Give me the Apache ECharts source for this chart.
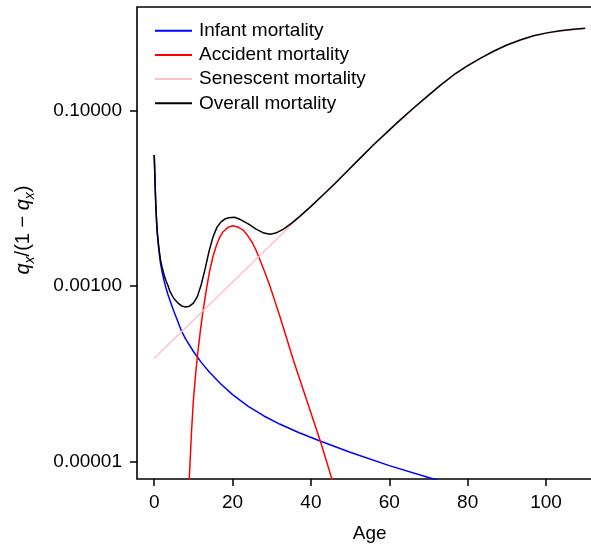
<!DOCTYPE html>
<html>
<head>
<meta charset="utf-8">
<script src="https://cdn.jsdelivr.net/npm/echarts@6/dist/echarts.min.js"></script>
<style>
html,body{margin:0;padding:0;background:#fff;}
#chart{width:591px;height:544px;}
</style>
</head>
<body>
<div id="chart"></div>
<script>
// Ages (years) and q/(1-q) values
var infantAge = [0, 0.1, 0.25, 0.4, 0.6, 0.8, 1, 1.3, 1.6, 2, 2.5, 3, 3.5, 4, 5, 6, 7, 8, 10, 12, 14, 17, 20, 24, 28, 32, 37, 42, 50, 60, 70, 76];
var infantVal = [3.13e-2, 2.24e-2, 1.318e-2, 8.32e-3, 5.37e-3, 3.89e-3, 3.09e-3, 2.317e-3, 1.82e-3, 1.462e-3, 1.161e-3, 9.55e-4, 8.04e-4, 6.92e-4, 5.19e-4, 3.98e-4, 3.05e-4, 2.51e-4, 1.803e-4, 1.355e-4, 1.057e-4, 7.67e-5, 5.82e-5, 4.28e-5, 3.32e-5, 2.685e-5, 2.138e-5, 1.742e-5, 1.282e-5, 9.02e-6, 6.61e-6, 5.50e-6];

var accidentAge = [8.6, 8.95, 9.5, 10, 10.6, 11.2, 11.85, 12.5, 13.35, 14.2, 15.05, 15.9, 16.75, 17.6, 18.8, 20, 21.3, 22.7, 23.8, 24.9, 26, 27, 28.3, 29.6, 30.8, 32.1, 33.8, 35.5, 37.2, 38.9, 40.6, 42.3, 43.8, 45.3, 46];
var accidentVal = [2.51e-6, 6.46e-6, 2.14e-5, 5.05e-5, 1.035e-4, 1.875e-4, 3.31e-4, 5.36e-4, 9.44e-4, 1.531e-3, 2.223e-3, 2.951e-3, 3.622e-3, 4.178e-3, 4.677e-3, 4.887e-3, 4.732e-3, 4.365e-3, 3.802e-3, 3.214e-3, 2.570e-3, 1.991e-3, 1.413e-3, 9.86e-4, 6.76e-4, 4.49e-4, 2.547e-4, 1.442e-4, 8.53e-5, 5.05e-5, 2.985e-5, 1.766e-5, 1.072e-5, 6.46e-6, 5.01e-6];

var senescentAge = [0, 37, 40, 43.2, 46, 49.1, 52.5, 55.9, 59.3, 62.8, 66.2, 69.6, 73, 76.4, 79.8, 83.2, 86.6, 90, 93.4, 96.8, 100.2, 103.6, 107, 110];
var senescentVal = [1.51e-4, 6.10e-3, 8.05e-3, 1.098e-2, 1.447e-2, 1.998e-2, 2.835e-2, 4.02e-2, 5.57e-2, 7.77e-2, 0.1061, 0.1430, 0.1922, 0.2527, 0.3189, 0.3914, 0.4716, 0.5554, 0.6333, 0.7089, 0.7632, 0.8084, 0.8387, 0.8603];

var overallAge = [0, 0.1, 0.25, 0.4, 0.6, 0.8, 1, 1.3, 1.6, 2, 2.5, 3, 3.5, 4, 5, 6, 7, 8, 9, 10, 11, 12, 13, 14, 15, 16, 17, 18, 19, 20.5, 22, 24, 26, 28, 29.6, 31, 33, 35, 37, 40, 43.2, 46, 49.1, 52.5, 55.9, 59.3, 62.8, 66.2, 69.6, 73, 76.4, 79.8, 83.2, 86.6, 90, 93.4, 96.8, 100.2, 103.6, 107, 110];
var overallVal = [3.13e-2, 2.25e-2, 1.324e-2, 8.47e-3, 5.52e-3, 4.05e-3, 3.26e-3, 2.49e-3, 2.0e-3, 1.644e-3, 1.352e-3, 1.156e-3, 1.016e-3, 8.71e-4, 7.24e-4, 6.46e-4, 5.96e-4, 5.79e-4, 5.92e-4, 6.41e-4, 7.59e-4, 1.047e-3, 1.585e-3, 2.51e-3, 3.63e-3, 4.68e-3, 5.37e-3, 5.82e-3, 6.03e-3, 6.10e-3, 5.75e-3, 5.13e-3, 4.47e-3, 4.03e-3, 3.90e-3, 4.03e-3, 4.47e-3, 5.19e-3, 6.17e-3, 8.13e-3, 1.109e-2, 1.462e-2, 2.018e-2, 2.864e-2, 4.064e-2, 5.623e-2, 7.852e-2, 0.1072, 0.1445, 0.1941, 0.2553, 0.3221, 0.3954, 0.4764, 0.5610, 0.6397, 0.7161, 0.7709, 0.8166, 0.8472, 0.8690];

var xTicks = [0, 20, 40, 60, 80, 100];
var yTicks = [0.00001, 0.001, 0.1];

var seriesNames = ['Infant mortality', 'Accident mortality', 'Senescent mortality', 'Overall mortality'];
var seriesColors = ['#0000ff', '#ff0000', '#ffc0cb', '#000000'];

function pairs(xs, ys) { return xs.map(function (x, i) { return [x, ys[i]]; }); }

var FONT = '"Liberation Sans", Arial, Helvetica, sans-serif';
var chart = echarts.init(document.getElementById('chart'));
var dataSets = [pairs(infantAge, infantVal), pairs(accidentAge, accidentVal), pairs(senescentAge, senescentVal), pairs(overallAge, overallVal)];

chart.setOption({
  animation: false,
  backgroundColor: '#fff',
  textStyle: { fontFamily: FONT },
  grid: { left: 137, top: 7, width: 465.4, height: 472, outerBoundsMode: 'none', containLabel: false,
          show: true, borderColor: '#000', borderWidth: 1.6, backgroundColor: 'transparent' },
  legend: {
    orient: 'vertical', left: 155, top: 18.6, padding: 0,
    icon: 'rect', itemWidth: 37, itemHeight: 2, itemGap: 0,
    textStyle: { fontSize: 19, lineHeight: 24.2, color: '#000', fontFamily: FONT, padding: [0, 0, 0, 2] },
    data: seriesNames
  },
  xAxis: {
    type: 'value', min: -4.4, max: 114.4,
    name: 'Age', nameLocation: 'middle', nameGap: 45,
    nameTextStyle: { fontSize: 19, color: '#000', fontFamily: FONT },
    axisLine: { show: false, onZero: false },
    axisTick: { show: true, length: 7, lineStyle: { color: '#000', width: 1.5 }, customValues: xTicks },
    axisLabel: { fontSize: 19, color: '#000', margin: 14, fontFamily: FONT, customValues: xTicks },
    splitLine: { show: false }
  },
  yAxis: {
    type: 'log', logBase: 10, min: 6.35e-6, max: 1.52,
    name: '{i|q}{s|x}{n|/(1 − }{i|q}{s|x}{n|)}', nameLocation: 'middle', nameGap: 100,
    nameTextStyle: {
      color: '#000', fontFamily: FONT, padding: [0, 0, 0, 26], lineHeight: 27,
      rich: {
        i: { fontSize: 20, fontStyle: 'italic', color: '#000', fontFamily: FONT, lineHeight: 27 },
        s: { fontSize: 14, fontStyle: 'italic', color: '#000', fontFamily: FONT, lineHeight: 14, verticalAlign: 'bottom' },
        n: { fontSize: 20, color: '#000', fontFamily: FONT, lineHeight: 27 }
      }
    },
    axisLine: { show: false, onZero: false },
    axisTick: { show: true, length: 7, lineStyle: { color: '#000', width: 1.5 }, customValues: yTicks },
    axisLabel: { fontSize: 19, color: '#000', margin: 15, fontFamily: FONT, customValues: yTicks,
      formatter: function (v) { return Number(v).toFixed(5); } },
    splitLine: { show: false },
    minorTick: { show: false }
  },
  series: seriesNames.map(function (n, i) {
    return {
      name: n, type: 'line', data: dataSets[i], symbol: 'none', showSymbol: false,
      smooth: false, clip: true,
      lineStyle: { color: seriesColors[i], width: 1.5 }, itemStyle: { color: seriesColors[i] }
    };
  })
});
</script>
</body>
</html>
